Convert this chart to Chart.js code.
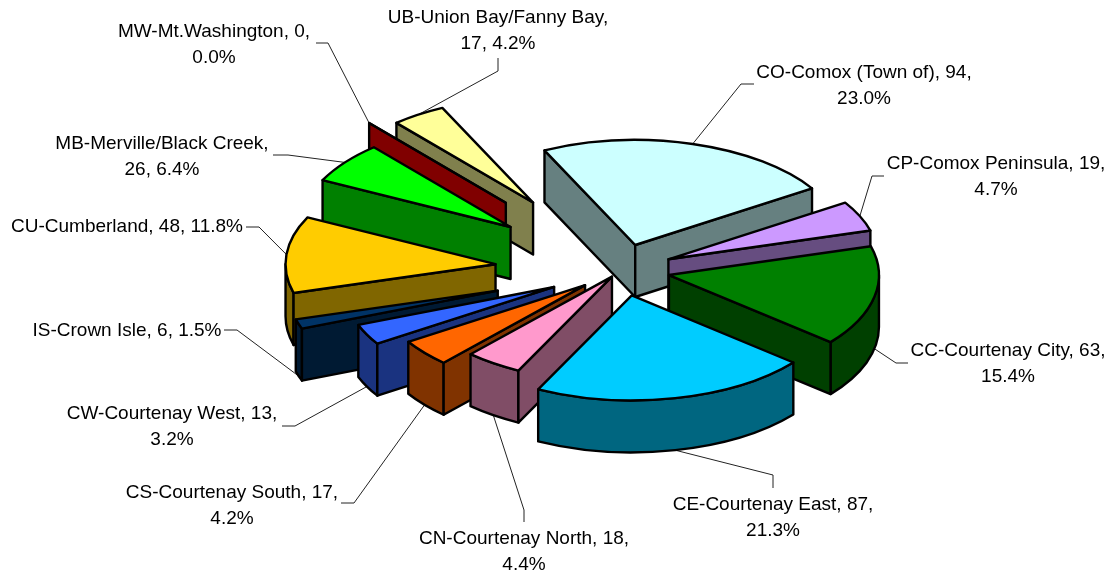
<!DOCTYPE html>
<html>
<head>
<meta charset="utf-8">
<style>html,body{margin:0;padding:0;background:#fff}#wrap{width:1110px;height:571px}</style>
<script src="https://cdn.jsdelivr.net/npm/chart.js@4"></script>
</head>
<body>
<div id="wrap"><canvas id="c" width="1110" height="571"></canvas></div>
<script>
const categories = ['CO-Comox (Town of)','CP-Comox Peninsula','CC-Courtenay City','CE-Courtenay East','CN-Courtenay North','CS-Courtenay South','CW-Courtenay West','IS-Crown Isle','CU-Cumberland','MB-Merville/Black Creek','MW-Mt.Washington','UB-Union Bay/Fanny Bay'];
const values = [94,19,63,87,18,17,13,6,48,26,0,17];
const topColors = ['#CCFFFF','#CC99FF','#008000','#00CCFF','#FF99CC','#FF6600','#3366FF','#003366','#FFCC00','#00FF00','#FF0000','#FFFF99'];
const wallColors = ['#668080','#664D80','#004000','#006680','#804D66','#803300','#1A3380','#001A33','#806600','#008000','#800000','#80804D'];
const explode = [52,52,49,52,16,47,75,130,126,140,177,161];
// label layout: centre x, centre y of first line, wrap mode
const labelX = [864,996,1008,773,524,232,172,127,127,162,214,498];
const labelY = [73,164,351,505,539,493,414,331,227,144,32,18];
const labelWrap = ['value','value','value','value','value','value','value','none','none','name','value','name'];
// leader elbows (label side), the last leg ends on the slice itself
const leaderElbows = [
 [[754,84],[741,84]],[[884,176],[872,176]],[[908,363],[896,363]],[[773,488],[773,475]],
 [[524,522],[524,510]],[[341,503],[354,503]],[[282,426],[295,426]],[[224,330],[237,330]],
 [[246,227],[259,227]],[[273,155],[288,155]],[[316,43],[328,43]],[[498,58],[498,71]]
];
const tilt = 0.5, depth = 52, lineGap = 25.3;
const FONT = '19px "Liberation Sans", Arial, sans-serif';

const total = values.reduce((a,b)=>a+b,0);
function labelLines(i){
  const pct = (values[i]/total*100).toFixed(1)+'%';
  if(labelWrap[i]==='name') return [categories[i]+',', values[i]+', '+pct];
  if(labelWrap[i]==='value') return [categories[i]+', '+values[i]+',', pct];
  return [categories[i]+', '+values[i]+', '+pct];
}

const pie3d = {
  id:'pie3d',
  beforeDatasetDraw(chart){
    const ctx = chart.ctx, arcs = chart.getDatasetMeta(0).data;
    const geo = arcs.map((el,i)=>{
      const mid=(el.startAngle+el.endAngle)/2, off=el.options.offset, r=el.outerRadius;
      const ax=el.x+Math.cos(mid)*off, ay=el.y+Math.sin(mid)*off*tilt;
      return {i,s:el.startAngle,e:el.endAngle,mid,r,ax,ay};
    });
    const pt=(g,a)=>[g.ax+Math.cos(a)*g.r, g.ay+Math.sin(a)*g.r*tilt];
    ctx.save();
    ctx.lineJoin='round';
    // leaders
    geo.forEach(g=>{
      const p=pt(g,g.mid), drop=Math.sin(g.mid)>0?depth:0, el=leaderElbows[g.i];
      ctx.beginPath();ctx.moveTo(el[0][0],el[0][1]);ctx.lineTo(el[1][0],el[1][1]);
      ctx.lineTo(p[0],p[1]+drop);
      ctx.strokeStyle='#222';ctx.lineWidth=1;ctx.stroke();
    });
    // slices, back to front
    const back=g=>Math.abs(Math.atan2(Math.cos(g.mid),Math.sin(g.mid)));
    const order=geo.slice().sort((a,b)=>back(b)-back(a));
    ctx.lineWidth=2.4;ctx.strokeStyle='#000';
    const radialWall=(g,a,fill)=>{
      const p=pt(g,a);
      ctx.beginPath();ctx.moveTo(g.ax,g.ay);ctx.lineTo(p[0],p[1]);ctx.lineTo(p[0],p[1]+depth);ctx.lineTo(g.ax,g.ay+depth);ctx.closePath();
      ctx.fillStyle=fill;ctx.fill();ctx.stroke();
    };
    order.forEach(g=>{
      const wall=wallColors[g.i];
      // outer curved wall on the part of the rim that faces the viewer
      for(let k=-1;k<=2;k++){
        const lo=Math.max(g.s,2*Math.PI*k), hi=Math.min(g.e,2*Math.PI*k+Math.PI);
        if(hi>lo){
          ctx.beginPath();
          ctx.ellipse(g.ax,g.ay,g.r,g.r*tilt,0,lo,hi,false);
          ctx.ellipse(g.ax,g.ay+depth,g.r,g.r*tilt,0,hi,lo,true);
          ctx.closePath();ctx.fillStyle=wall;ctx.fill();ctx.stroke();
        }
      }
      // radial walls that face the viewer
      if(Math.cos(g.s)<0) radialWall(g,g.s,wall);
      if(Math.cos(g.e)>0) radialWall(g,g.e,wall);
      // top
      ctx.beginPath();ctx.moveTo(g.ax,g.ay);
      ctx.ellipse(g.ax,g.ay,g.r,g.r*tilt,0,g.s,g.e,false);
      ctx.closePath();ctx.fillStyle=topColors[g.i];ctx.fill();ctx.stroke();
    });
    // labels
    ctx.fillStyle='#000';ctx.font=FONT;ctx.textAlign='center';ctx.textBaseline='middle';
    geo.forEach(g=>{
      labelLines(g.i).forEach((t,n)=>ctx.fillText(t,labelX[g.i],labelY[g.i]+n*lineGap));
    });
    ctx.restore();
    return false;
  }
};

new Chart(document.getElementById('c'),{
  type:'pie',
  data:{labels:categories,datasets:[{data:values,backgroundColor:topColors,offset:explode,borderColor:'#000',borderWidth:2,hoverOffset:0}]},
  options:{
    responsive:false,animation:false,rotation:-25.6,radius:210,
    layout:{padding:{left:132,bottom:31}},
    plugins:{legend:{display:false},tooltip:{enabled:false},title:{display:false}}
  },
  plugins:[pie3d]
});
</script>
</body>
</html>
